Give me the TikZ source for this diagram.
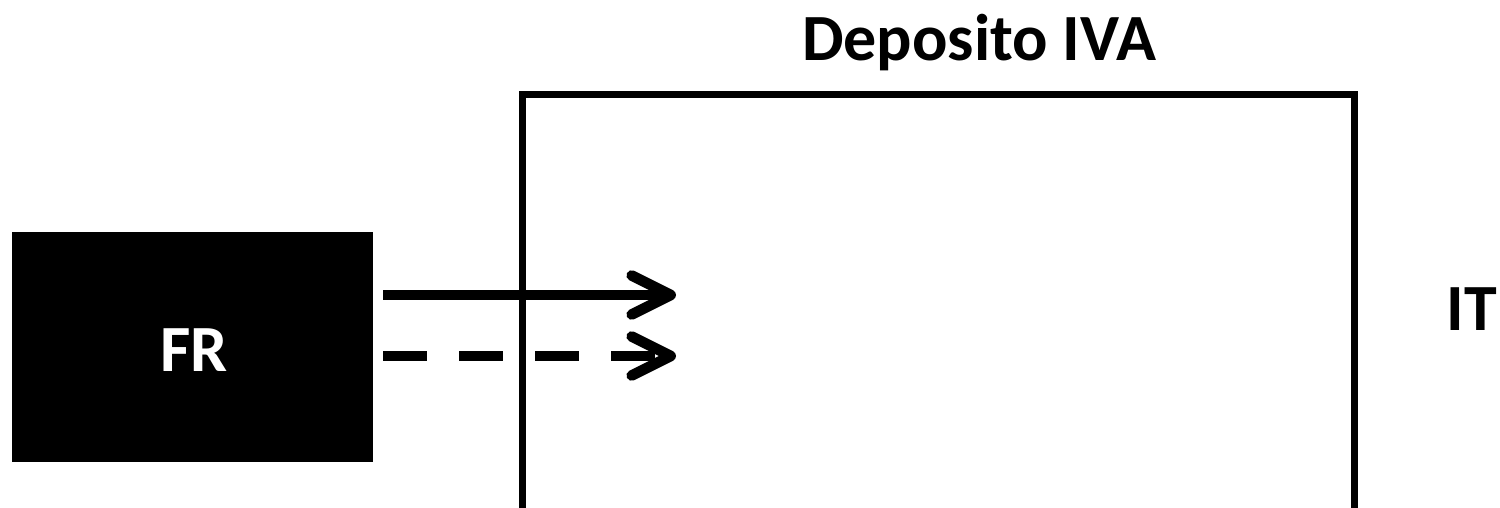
\documentclass[tikz,border=0pt]{standalone}
\usepackage{fontspec}
\setmainfont{Carlito}
\usetikzlibrary{arrows.meta,calc}
\tikzset{
  blackbox/.style={rectangle, fill=black, draw=none, inner sep=0pt, minimum width=180.5pt, minimum height=115pt},
  framebox/.style={rectangle, draw=black, line width=3.25pt, inner sep=0pt, minimum width=416pt, minimum height=217.75pt},
  lbl/.style={font=\fontsize{33}{38}\selectfont\bfseries, inner sep=0pt, anchor=base},
  flow/.style={line width=5.3pt, -{Straight Barb[length=19.5pt, width=19.5pt, round]}},
  flowdash/.style={flow, dash pattern=on 22pt off 16pt}
}
\begin{document}
\begin{tikzpicture}[x=0.5pt,y=-0.5pt]
\clip (0,0) rectangle (1500,508);
\fill[white] (0,0) rectangle (1500,508);
\node[blackbox] (fr) at (192.5,347) {};
\node[lbl, text=white] (frtext) at (194,371) {FR};
\node[framebox] (dep) at (938.5,312.25) {};
\node[lbl] (deptitle) at (979,61) {Deposito IVA};
\node[lbl] (it) at (1472,330) {IT};
\coordinate (tip1) at (676,295);
\coordinate (tip2) at (676,356);
\draw[flow] ($(fr.east)+(10,-52)$) -- (tip1);
\draw[flowdash] ($(fr.east)+(10,9)$) -- (tip2);
\end{tikzpicture}
\end{document}
